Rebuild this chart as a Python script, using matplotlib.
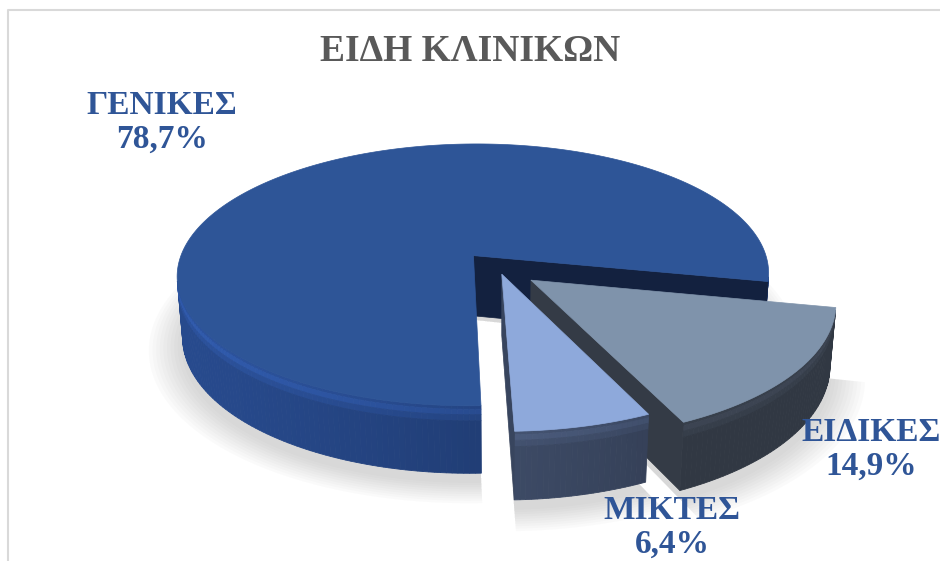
import numpy as np
import matplotlib.pyplot as plt
from matplotlib.patches import Polygon
from matplotlib.colors import to_rgb

# data
labels = ['ΓΕΝΙΚΕΣ', 'ΕΙΔΙΚΕΣ', 'ΜΙΚΤΕΣ']
values = [78.7, 14.9, 6.4]
pct_text = ['78,7%', '14,9%', '6,4%']
title = 'ΕΙΔΗ ΚΛΙΝΙΚΩΝ'

# style
explode = [0.135, 0.135, 0.04]
top_colors = ['#2E5597', '#7F93AB', '#8EA9DB']
wall_colors = ['#22407A', '#3A424F', '#3F4D69']
cut_colors = ['#13213F', '#343B46', '#38455E']
label_color = '#2F5597'
label_pos = [(162, 122), (871, 449), (672, 527)]

W, H = 940, 561
fig = plt.figure(figsize=(W / 100, H / 100), dpi=100)
ax = fig.add_axes([0, 0, 1, 1])
ax.set_xlim(0, W)
ax.set_ylim(H, 0)
ax.axis('off')

# simple perspective camera for the 3d pie
elev = np.radians(26.4)
dist = 6.0
thick = 0.233
cx, cy, scale = 499, 269, 297
cam = np.array([0.0, -dist * np.cos(elev), dist * np.sin(elev)])


def project(x, y, z):
    d = dist + y * np.cos(elev) - z * np.sin(elev)
    sx = x * dist / d
    sy = (y * np.sin(elev) + z * np.cos(elev)) * dist / d
    return cx + scale * sx, cy - scale * sy


def facing(p, n):
    return np.dot(cam - p, n) > 0


def shade(c, f):
    r = np.clip(np.array(to_rgb(c)) * f, 0, 1)
    return tuple(r)


light = np.array([-0.8, -0.35, 0.5])
light = light / np.linalg.norm(light)

# bevel bands on the outer wall (fraction of thickness, brightness)
bands = [(0.0, 0.05, 1.12), (0.05, 0.13, 1.22), (0.13, 0.22, 1.1), (0.22, 1.0, 1.0)]

# slice angles, clockwise from the first slice
theta = 272.0
spans = []
for v in values:
    sweep = 360 * v / sum(values)
    spans.append((theta - sweep, theta))
    theta -= sweep

slices = []
for i, (a1, a2) in enumerate(spans):
    mid = np.radians((a1 + a2) / 2)
    off = explode[i] * np.array([np.cos(mid), np.sin(mid)])
    slices.append((i, np.radians(a1), np.radians(a2), off))

# soft shadow under the pie
for k in range(10):
    grow = 1.0 + 0.012 * k
    for i, t1, t2, off in slices:
        ts = np.linspace(t1, t2, 120)
        xs = off[0] + grow * np.cos(ts)
        ys = off[1] + grow * np.sin(ts) - 0.03
        px, py = project(np.r_[off[0], xs], np.r_[off[1], ys], np.full(len(ts) + 1, -thick))
        ax.add_patch(Polygon(np.c_[px, py + 4], closed=True, facecolor='#7F7F7F',
                             edgecolor='none', alpha=0.03, zorder=1))

# far slices first
order = sorted(slices, key=lambda s: -(s[3][1] + 0.5 * np.sin((s[1] + s[2]) / 2)))

z = 2
for i, t1, t2, off in order:
    ts = np.linspace(t1, t2, int(np.degrees(t2 - t1)) + 2)
    ox, oy = off

    # outer wall
    for j in range(len(ts) - 1):
        tm = (ts[j] + ts[j + 1]) / 2
        n = np.array([np.cos(tm), np.sin(tm), 0.0])
        p = np.array([ox + np.cos(tm), oy + np.sin(tm), -thick / 2])
        if not facing(p, n):
            continue
        ndl = max(0.0, np.dot(n, light))
        base = shade(wall_colors[i], 0.85 + 0.35 * ndl)
        xa = ox + np.cos(ts[j:j + 2])
        ya = oy + np.sin(ts[j:j + 2])
        for f0, f1, f in bands:
            z0, z1 = -f0 * thick, -f1 * thick
            qx, qy = project(np.r_[xa, xa[::-1]], np.r_[ya, ya[::-1]], np.r_[z0, z0, z1, z1])
            col = shade(base, f)
            ax.add_patch(Polygon(np.c_[qx, qy], closed=True, facecolor=col,
                                 edgecolor=col, lw=0.6, zorder=z))

    # the two cut faces
    for t, sgn in [(t1, -1), (t2, 1)]:
        na = t + sgn * np.pi / 2
        n = np.array([np.cos(na), np.sin(na), 0.0])
        p = np.array([ox + 0.5 * np.cos(t), oy + 0.5 * np.sin(t), -thick / 2])
        if not facing(p, n):
            continue
        ex, ey = ox + np.cos(t), oy + np.sin(t)
        qx, qy = project(np.array([ox, ex, ex, ox]), np.array([oy, ey, ey, oy]),
                         np.array([0, 0, -thick, -thick]))
        ax.add_patch(Polygon(np.c_[qx, qy], closed=True, facecolor=cut_colors[i],
                             edgecolor=cut_colors[i], lw=0.5, zorder=z + 0.1))

    # top face
    tx, ty = project(np.r_[ox, ox + np.cos(ts)], np.r_[oy, oy + np.sin(ts)], np.zeros(len(ts) + 1))
    ax.add_patch(Polygon(np.c_[tx, ty], closed=True, facecolor=top_colors[i],
                         edgecolor=top_colors[i], lw=0.5, zorder=z + 0.2))
    z += 1

# labels
for (lx, ly), lab, pt in zip(label_pos, labels, pct_text):
    ax.text(lx, ly, lab + '\n' + pt, ha='center', va='center', color=label_color,
            fontsize=24, fontweight='bold', family='Liberation Serif',
            linespacing=1.12, zorder=20)

ax.text(W / 2, 51, title, ha='center', va='center', color='#595959', fontsize=27,
        fontweight='bold', family='Liberation Serif', zorder=20)

# chart frame
ax.plot([8, 8, W + 5], [H + 5, 10, 10], color='#D9D9D9', lw=1.5, zorder=0)

fig.savefig('out.png', dpi=100)
